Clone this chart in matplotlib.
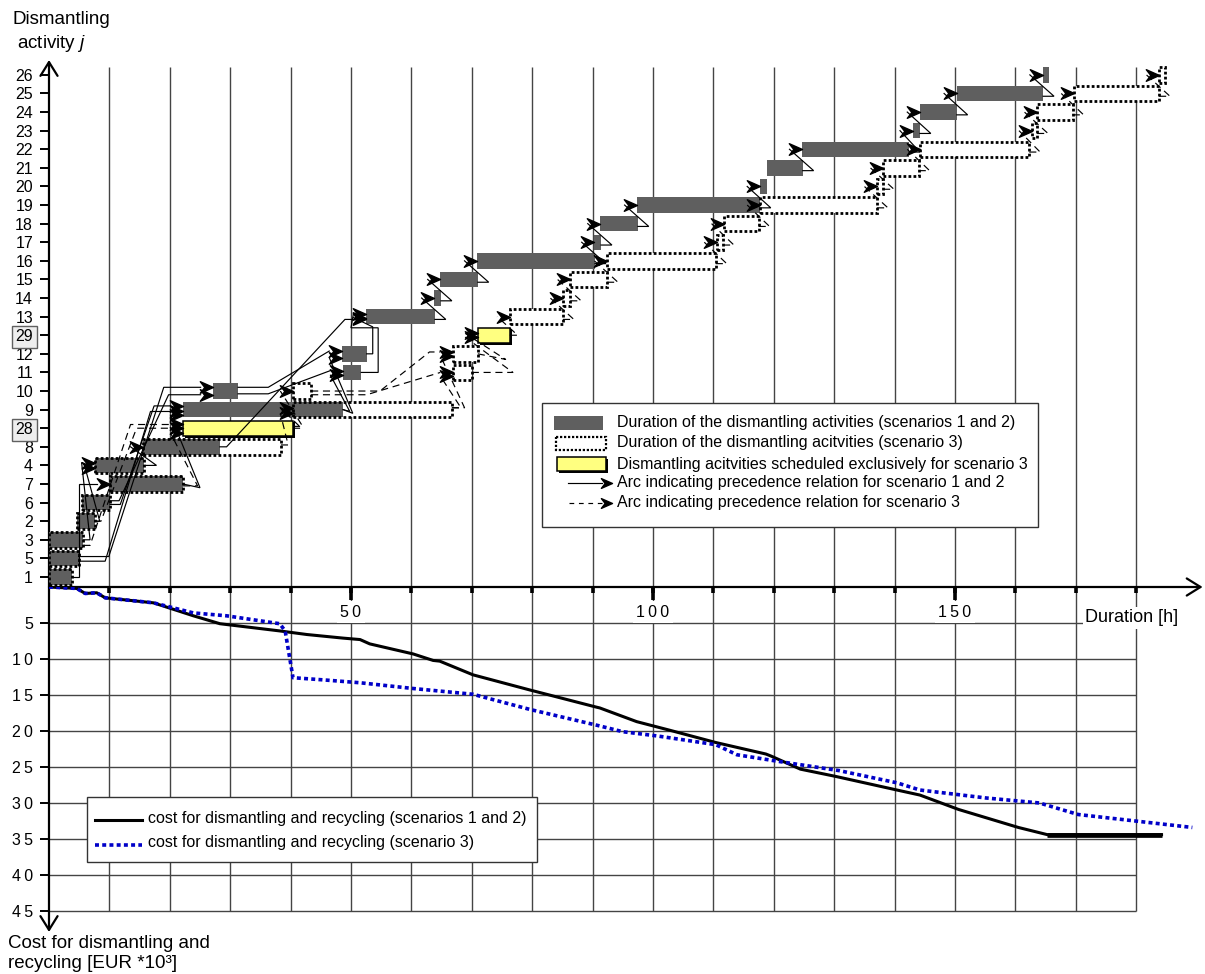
import matplotlib
matplotlib.use("Agg")
import matplotlib.pyplot as plt
from matplotlib.patches import Rectangle
from matplotlib.path import Path

plt.rcParams["font.family"] = ["Liberation Sans", "DejaVu Sans"]
plt.rcParams["mathtext.fontset"] = "custom"
plt.rcParams["mathtext.rm"] = "Liberation Sans"
plt.rcParams["mathtext.it"] = "Liberation Sans:italic"

# ---------------- data ----------------
# activity rows, bottom to top
row_labels = ["1", "5", "3", "2", "6", "7", "4", "8", "28", "9", "10", "11", "12",
              "29", "13", "14", "15", "16", "17", "18", "19", "20", "21", "22",
              "23", "24", "25", "26"]
boxed_rows = ["28", "29"]

# schedule for scenarios 1 and 2 (hours)
s12_act = ["1", "5", "3", "2", "6", "7", "4", "8", "9", "10", "11", "12", "13",
           "14", "15", "16", "17", "18", "19", "20", "21", "22", "23", "24", "25", "26"]
s12_start = [0, 0, 0, 4.6, 5.5, 10.1, 7.6, 15.6, 22.2, 27.2, 48.7, 48.5, 52.5,
             63.8, 64.8, 70.9, 90.3, 91.3, 97.4, 117.7, 118.8, 124.7, 143.0, 144.2, 150.3, 164.5]
s12_end = [3.8, 4.9, 5.7, 7.6, 10.1, 22.2, 15.7, 28.3, 48.7, 31.3, 51.7, 52.6, 63.9,
           64.9, 71.0, 90.4, 91.4, 97.5, 117.7, 118.9, 124.8, 142.4, 144.2, 150.3, 164.6, 165.6]

# schedule for scenario 3 (hours)
s3_act = ["1", "5", "3", "2", "6", "7", "4", "8", "9", "10", "11", "12", "13",
          "14", "15", "16", "17", "18", "19", "20", "21", "22", "23", "24", "25", "26"]
s3_start = [0, 0, 0, 4.6, 5.5, 10.1, 7.6, 15.6, 40.4, 40.4, 66.9, 66.9, 76.3,
            85.1, 86.3, 92.4, 110.6, 111.8, 117.7, 137.1, 138.1, 144.2, 162.7, 163.6, 169.7, 183.8]
s3_end = [3.8, 4.9, 5.7, 7.6, 10.1, 22.2, 15.7, 38.4, 66.7, 43.4, 70.0, 71.0, 85.1,
          86.3, 92.4, 110.4, 111.6, 117.5, 137.1, 138.1, 144.0, 162.3, 163.6, 169.5, 183.8, 184.8]

# activities scheduled only in scenario 3
excl_act = ["28", "29"]
excl_start = [22.2, 71.0]
excl_end = [40.4, 76.3]

# precedence arcs: (pred, succ, start offset, end offset, waypoints (hour, row, offset))
arcs_s12 = [
    ("1", "7", 0, 0, [(5.0, "1", 0), (5.0, "7", 0)]),
    ("3", "4", 0, 0.15, [(6.8, "3", 0), (5.4, "4", 0.15)]),
    ("2", "4", 0, -0.15, [(8.4, "2", 0), (6.0, "4", -0.15)]),
    ("4", "8", 0, 0, [(17.8, "4", 0)]),
    ("5", "10", 0.1, 0.2, [(9.9, "5", 0.1), (19.0, "10", 0.2)]),
    ("6", "10", 0.1, -0.2, [(11.6, "6", 0.1), (19.8, "10", -0.2)]),
    ("5", "9", -0.15, -0.1, [(9.3, "5", -0.15), (16.8, "9", -0.1)]),
    ("6", "9", -0.1, 0.2, [(11.8, "6", -0.1), (17.4, "9", 0.2)]),
    ("7", "9", 0, -0.3, [(25.0, "7", -0.2)]),
    ("8", "13", 0, -0.15, [(29.4, "8", 0), (49.0, "13", -0.15)]),
    ("10", "12", 0.2, 0.15, [(36.3, "10", 0.2)]),
    ("10", "11", -0.15, 0.1, [(36.3, "10", -0.15)]),
    ("9", "11", 0, -0.15, [(49.8, "9", -0.1)]),
    ("9", "12", 0, -0.2, [(50.3, "9", -0.2)]),
    ("11", "13", 0, 0.15, [(54.5, "11", 0), (54.5, "13", -0.6), (50.0, "13", -0.6)]),
    ("12", "13", 0, -0.05, [(53.6, "12", 0), (53.6, "13", -0.55)]),
    ("13", "14", -0.15, 0, None), ("14", "15", -0.15, 0, None),
    ("15", "16", -0.15, 0, None), ("16", "17", -0.15, 0, None),
    ("17", "18", -0.15, 0, None), ("18", "19", -0.15, 0, None),
    ("19", "20", -0.15, 0, None), ("21", "22", -0.15, 0, None),
    ("22", "23", -0.15, 0, None), ("23", "24", -0.15, 0, None),
    ("24", "25", -0.15, 0, None), ("25", "26", -0.15, 0, None),
]
arcs_s3 = [
    ("3", "28", -0.3, 0.2, [(6.8, "3", -0.3), (13.5, "28", 0.2)]),
    ("2", "28", 0, 0.0, [(8.6, "2", 0), (14.5, "28", 0)]),
    ("7", "28", -0.1, -0.25, [(24.6, "7", -0.1)]),
    ("8", "9", 0.1, -0.2, [(39.6, "8", 0.1)]),
    ("28", "9", 0, 0.1, [(41.8, "28", 0)]),
    ("28", "10", 0.1, 0, [(42.0, "28", 0.1)]),
    ("10", "12", 0, 0.1, [(54.8, "10", 0), (63.0, "12", 0.1)]),
    ("10", "11", -0.2, 0, [(52.6, "10", -0.2)]),
    ("9", "11", 0.1, -0.2, [(68.2, "9", 0.1)]),
    ("9", "12", 0.1, -0.1, [(68.8, "9", 0.1)]),
    ("11", "29", 0, -0.1, [(76.8, "11", 0)]),
    ("12", "29", 0, 0.1, [(75.6, "12", -0.3)]),
    ("29", "13", 0, 0, [(77.6, "29", 0)]),
    ("13", "14", -0.15, 0, None), ("14", "15", -0.15, 0, None),
    ("15", "16", -0.15, 0, None), ("16", "17", -0.15, 0, None),
    ("17", "18", -0.15, 0, None), ("18", "19", -0.15, 0, None),
    ("19", "20", -0.15, 0, None), ("20", "21", -0.15, 0, None),
    ("21", "22", -0.15, 0, None), ("22", "23", -0.15, 0, None),
    ("23", "24", -0.15, 0, None), ("24", "25", -0.15, 0, None),
    ("25", "26", -0.15, 0, None),
]

# cumulative cost for dismantling and recycling [EUR * 10^3]
cost12_t = [0, 4.6, 6.0, 7.9, 9.3, 17.3, 20.6, 23.9, 28.3, 38.2, 42.7, 48.7, 51.5, 53.1,
            60.3, 63.6, 64.7, 70.2, 79.6, 90.7, 91.2, 97.3, 102.8, 110.4, 118.7, 119.6,
            124.4, 130.2, 140.4, 144.2, 150.6, 160.5, 165.3, 184.2]
cost12_c = [0, 0.2, 0.9, 0.8, 1.5, 2.2, 3.1, 4.0, 5.1, 6.1, 6.6, 7.1, 7.3, 7.9,
            9.3, 10.2, 10.3, 12.2, 14.3, 16.7, 16.8, 18.7, 19.9, 21.6, 23.2, 23.5,
            25.3, 26.3, 28.2, 28.9, 30.9, 33.4, 34.4, 34.4]
cost3_t = [0, 4.6, 6.0, 7.9, 9.3, 17.3, 20.6, 23.9, 29.4, 38.2, 39.1, 40.4, 45.4, 51.5,
           60.3, 70.2, 79.6, 90.7, 95.0, 100.8, 110.4, 113.9, 120.6, 130.8, 140.4, 144.2,
           155.1, 164.0, 170.4, 189.3]
cost3_c = [0, 0.2, 0.9, 0.8, 1.5, 2.2, 2.9, 3.6, 4.0, 5.1, 6.1, 12.6, 12.9, 13.3,
           14.1, 14.9, 17.0, 19.2, 20.1, 20.7, 21.9, 23.3, 24.2, 25.5, 27.2, 28.2,
           29.3, 30.0, 31.6, 33.4]

time_ticks = [50, 100, 150]
cost_ticks = [5, 10, 15, 20, 25, 30, 35, 40, 45]

# ---------------- layout ----------------
W, H = 1205, 974
fig = plt.figure(figsize=(W / 100, H / 100), dpi=100)
fig.patch.set_facecolor("white")


def fx(px):
    return px / W


def fy(py):
    return 1 - py / H


X0, X1 = 49, 1202.6
T_MAX = 191
ax1 = fig.add_axes([fx(X0), fy(587), fx(X1) - fx(X0), fy(60) - fy(587)])
ax2 = fig.add_axes([fx(X0), fy(932), fx(X1) - fx(X0), fy(587) - fy(932)])
ROW_LO, ROW_HI = -0.538, 27.8
ax1.set_xlim(0, T_MAX)
ax1.set_ylim(ROW_LO, ROW_HI)
ax2.set_xlim(0, T_MAX)
ax2.set_ylim(47.92, 0)
for ax in (ax1, ax2):
    for s in ax.spines.values():
        s.set_visible(False)
    ax.set_xticks([])

ypos = {lab: i for i, lab in enumerate(row_labels)}
GRID = "#444444"
hours = list(range(10, 181, 10))

# grid
ax1.vlines(hours, ROW_LO, 27.45, color=GRID, lw=1.0, zorder=1)
ax2.vlines(hours, 0, 45, color=GRID, lw=1.0, zorder=1)
ax2.hlines(cost_ticks, 0, 180, color=GRID, lw=1.0, zorder=1)
ax2.vlines(hours, 0, 0.85, color="black", lw=2.6, zorder=3)
ax2.vlines(time_ticks, 0, 1.8, color="black", lw=2.6, zorder=3)

# y ticks
ax1.set_yticks(range(len(row_labels)))
ax1.set_yticklabels(row_labels, fontsize=11.5)
ax1.tick_params(axis="y", length=6.5, width=1.4, pad=5.0, direction="out")
for t in ax1.get_yticklabels():
    if t.get_text() in boxed_rows:
        t.set_bbox(dict(boxstyle="square,pad=0.22", fc="#eeeeee", ec="#606060", lw=1))
ax2.set_yticks(cost_ticks)
ax2.set_yticklabels(["\u2009".join(str(v)) for v in cost_ticks], fontsize=11.5)
ax2.tick_params(axis="y", length=6.5, width=1.4, pad=5.0, direction="out")

# axes with arrows
arrow_kw = dict(arrowstyle="->,head_length=0.45,head_width=0.28", lw=1.6,
                color="black", shrinkA=0, shrinkB=0, mutation_scale=22)
ax1.annotate("", xy=(0, ROW_HI), xytext=(0, ROW_LO), arrowprops=arrow_kw,
             annotation_clip=False)
ax2.annotate("", xy=(0, 47.92), xytext=(0, 0), arrowprops=arrow_kw,
             annotation_clip=False)
ax2.annotate("", xy=(T_MAX, 0), xytext=(0, 0), arrowprops=arrow_kw,
             annotation_clip=False)

for v in time_ticks:
    ax2.text(v, 3.5, "\u2009".join(str(v)), ha="center", va="center", fontsize=11.5,
             zorder=4, bbox=dict(fc="white", ec="none", pad=2.5))
ax2.text(171.6, 4.3, "Duration [h]", ha="left", va="center", fontsize=13,
         zorder=4, bbox=dict(fc="white", ec="none", pad=2.0))

# ---------------- bars ----------------
BH = 0.83
GRAY = "#5f5f5f"
DOT = (0, (1.0, 0.8))
for a, s, e in zip(s3_act, s3_start, s3_end):
    ax1.add_patch(Rectangle((s, ypos[a] - BH / 2), e - s, BH, fc="white", ec="none", zorder=2))
for a, s, e in zip(s12_act, s12_start, s12_end):
    ax1.add_patch(Rectangle((s, ypos[a] - BH / 2), e - s, BH, fc=GRAY, ec="none", zorder=3))
for a, s, e in zip(s3_act, s3_start, s3_end):
    ax1.add_patch(Rectangle((s, ypos[a] - BH / 2), e - s, BH, fill=False, ec="black",
                            lw=2.0, ls=DOT, zorder=4))
for a, s, e in zip(excl_act, excl_start, excl_end):
    y = ypos[a]
    ax1.add_patch(Rectangle((s + 0.35, y - BH / 2 - 0.09), e - s, BH, fc="black",
                            ec="none", zorder=2.9))
    ax1.add_patch(Rectangle((s, y - BH / 2), e - s, BH, fc="#ffff80", ec="black",
                            lw=1.1, zorder=3))

# ---------------- precedence arcs ----------------
HEAD = Path([(0, 0), (-1, 0.44), (-0.66, 0), (-1, -0.44), (0, 0)],
            [Path.MOVETO, Path.LINETO, Path.LINETO, Path.LINETO, Path.CLOSEPOLY])
L_HEAD = 2.1
GAP = 1.8
HEAD_MS = 19


def draw_arcs(arcs, starts, ends, extra_s, extra_e, ls):
    st = dict(zip(*starts))
    en = dict(zip(*ends))
    st.update(extra_s)
    en.update(extra_e)
    for pred, succ, d0, d1, via in arcs:
        x0, y0 = en[pred], ypos[pred] + d0
        x1, y1 = st[succ], ypos[succ] + d1
        if via is None:
            pts = [(x0 + GAP, y0)]
        else:
            pts = [(h, ypos[r] + o) for h, r, o in via]
        xs = [x0] + [p[0] for p in pts] + [x1 - L_HEAD]
        ys = [y0] + [p[1] for p in pts] + [y1]
        ax1.plot(xs, ys, color="black", lw=0.85, ls=ls, zorder=5,
                 solid_joinstyle="miter", dash_capstyle="butt")
        ax1.plot([x1], [y1], marker=HEAD, ms=HEAD_MS, color="black", ls="none", zorder=6)


draw_arcs(arcs_s12, (s12_act, s12_start), (s12_act, s12_end), {}, {}, "-")
draw_arcs(arcs_s3, (s3_act, s3_start), (s3_act, s3_end),
          dict(zip(excl_act, excl_start)), dict(zip(excl_act, excl_end)), (0, (6, 4)))

# ---------------- cost curves ----------------
ax2.plot(cost12_t, cost12_c, color="black", lw=2.2, zorder=5, solid_joinstyle="round")
ax2.plot(cost12_t[-2:], cost12_c[-2:], color="black", lw=3.4, zorder=5,
         solid_capstyle="butt")
ax2.plot(cost3_t, cost3_c, color="#0000c8", lw=2.6, ls=(0, (1.1, 0.9)), zorder=6,
         dash_capstyle="butt")

# ---------------- overlay: legends and titles ----------------
axo = fig.add_axes([0, 0, 1, 1], zorder=10)
axo.set_xlim(0, W)
axo.set_ylim(H, 0)
axo.axis("off")
axo.patch.set_visible(False)

FS = 11.5
# legend of the schedule
axo.add_patch(Rectangle((542, 403), 496, 124, fc="white", ec="#333333", lw=1.0))
axo.add_patch(Rectangle((554, 416), 49, 14, fc=GRAY, ec="none"))
axo.add_patch(Rectangle((556, 437), 50, 13, fc="white", ec="black", lw=1.6, ls=DOT))
axo.add_patch(Rectangle((559, 459), 49, 14, fc="black", ec="none"))
axo.add_patch(Rectangle((557, 457), 49, 14, fc="#ffff80", ec="black", lw=1.1))
axo.plot([568, 602], [483, 483], color="black", lw=0.85)
axo.plot([612], [483], marker=HEAD, ms=16, color="black", ls="none")
axo.plot([569, 602], [503, 503], color="black", lw=0.85, ls=(0, (4, 4)))
axo.plot([612], [503], marker=HEAD, ms=16, color="black", ls="none")
leg1 = ["Duration of the dismantling activities (scenarios 1 and 2)",
        "Duration of the dismantling acitvities (scenario 3)",
        "Dismantling acitvities scheduled exclusively for scenario 3",
        "Arc indicating precedence relation for scenario 1 and 2",
        "Arc indicating precedence relation for scenario 3"]
for txt, yy in zip(leg1, [423, 443, 464, 483, 503]):
    axo.text(617, yy, txt, fontsize=FS, va="center", ha="left")

# legend of the cost curves
axo.add_patch(Rectangle((87, 797), 450, 65, fc="white", ec="#333333", lw=1.0))
axo.plot([95, 142], [820, 820], color="black", lw=2.2)
axo.plot([95, 142], [845, 845], color="#0000c8", lw=2.6, ls=(0, (1.1, 0.9)))
axo.text(148, 818, "cost for dismantling and recycling (scenarios 1 and 2)",
         fontsize=FS, va="center", ha="left")
axo.text(148, 843, "cost for dismantling and recycling (scenario 3)",
         fontsize=FS, va="center", ha="left")

# axis titles
axo.text(13, 19, "Dismantling", fontsize=13.5, va="center", ha="left")
axo.text(17, 44, r"activity $j$", fontsize=13.5, va="center", ha="left")
axo.text(8, 943, "Cost for dismantling and", fontsize=13.5, va="center", ha="left")
axo.text(8, 963, "recycling [EUR *10\u00b3]", fontsize=13.5, va="center", ha="left")

fig.savefig("out.png", dpi=100, facecolor="white")
